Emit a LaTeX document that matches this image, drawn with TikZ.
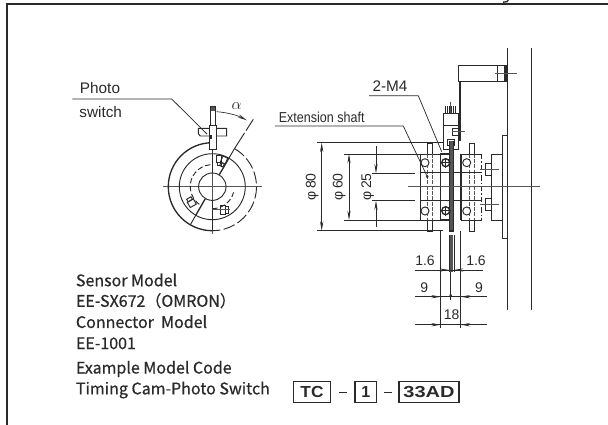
\documentclass[tikz,border=0pt]{standalone}
\usepackage{fontspec}
\setmainfont{Liberation Sans}
\newfontfamily\jpf[FakeBold=0.6]{Noto Sans CJK JP}
\usetikzlibrary{arrows.meta}
\definecolor{ink}{HTML}{2A2A2A}
\definecolor{mid}{HTML}{555555}
\tikzset{
 frameline/.style={draw=ink,line width=1.5pt},
 thin line/.style={draw=ink,line width=0.55pt},
 obj/.style={draw=ink,line width=0.7pt},
 heavy/.style={draw=ink,line width=1pt},
 cl/.style={draw=mid,line width=0.7pt},
 dim/.style={draw=ink,line width=0.5pt},
 dimboth/.style={dim,{Stealth[length=7pt,width=2.4pt]}-{Stealth[length=7pt,width=2.4pt]}},
 dimto/.style={dim,-{Stealth[length=7pt,width=2.4pt]}},
 lbl/.style={inner sep=0pt,text=ink},
 photolbl/.style={lbl,font=\fontsize{11.5}{13}\selectfont},
 dimlbl/.style={lbl,font=\fontsize{10.5}{12}\selectfont},
 note/.style={lbl,anchor=west,font=\jpf\fontsize{12}{14}\selectfont},
 codebox/.style={draw=ink,line width=0.8pt,minimum height=15.5pt,inner sep=0pt,font=\bfseries\fontsize{12}{14}\selectfont,text=ink},
 bgdash/.style={draw=mid,line width=0.6pt,dash pattern=on 3pt off 1pt},
}
\begin{document}
\begin{tikzpicture}[x=0.75pt,y=-0.75pt]
\useasboundingbox (0,0) rectangle (608,425);
% frame
\coordinate (fbl) at (6.5,425); \coordinate (ftl) at (6.5,4); \coordinate (ftr) at (608,4);
\draw[frameline] (fbl) -- (ftl) -- (ftr);
\draw[line width=1pt,draw=ink] (503,2.2) .. controls (506,2.4) and (508,1.5) .. (508.5,0);

%%% left view
\coordinate (cc) at (212.3,186.7);
\begin{scope}[shift={(cc)}]
 \draw[cl] (-49,0) -- (49.4,0);
 \draw[cl] (0,-80.7) -- (0,47.3);
 \draw[obj] (0,0) circle (13.7);
 \draw[obj] (0,0) circle (33);
 \draw[heavy] (0,-44) arc[start angle=-90,end angle=-270,radius=44];
 \draw[obj,dash pattern=on 9pt off 2.5pt] (22.2,-38.1) arc[start angle=-60,end angle=90,radius=44];
 \draw[obj,dash pattern=on 4pt off 2pt] (-2,-22) arc[start angle=-95,end angle=-240,radius=22];
 \draw[obj,dash pattern=on 4pt off 2pt] (0,22) arc[start angle=90,end angle=15,radius=22];
 % radial cuts
 \draw[heavy] (7,-12) -- (16,-27.5);
 \draw[obj] (16,-27.5) -- (22.2,-38.1);
 \draw[obj,dash pattern=on 14pt off 2pt] (22.2,-38.1) -- (41,-67.4);
 \draw[heavy] (-7,12) -- (-16.5,28.5);
 \draw[obj] (-16.5,28.5) -- (-22,38.1);
 \draw[heavy] (0,-44) -- (0,-14);
 \draw[heavy] (0,14) -- (0,44);
 % alpha dimension
 \draw[dimto] (4.4,-75) arc[start angle=-86,end angle=-62,radius=75.5];
 % bolts
 \draw[obj] (4.4,-31) rectangle (9.6,-24.5);
 \draw[obj] (5.2,-24.5) rectangle (8.8,-21);
 \draw[obj,rotate around={-24:(11,-25)}] (8.4,-30) rectangle (13.6,-23.5);
 \draw[obj,rotate around={-24:(11,-25)}] (9.2,-23.5) rectangle (12.8,-20);
 \draw[obj] (8,18.3) rectangle (13.5,28);
 \draw[obj] (13.5,20) rectangle (16,26.3);
 \draw[cl] (0,23.2) -- (18,23.2);
 \draw[obj,rotate around={30:(-20.5,16.5)}] (-24,13.5) rectangle (-17,19.5);
 \draw[obj,rotate around={30:(-20.5,16.5)}] (-23,10.5) rectangle (-18,13.5);
 % sensor
 \draw[obj,fill=white] (-14,-58.4) -- (14.4,-58.4) -- (14.4,-50.7) -- (-12,-50.7) -- (-14,-53) -- cycle;
 \draw[obj,fill=white] (-3,-61.7) rectangle (4.4,-37.4);
 \draw[obj,fill=white] (-1.6,-80) rectangle (2.7,-61.7);
 \fill[mid] (-1.6,-80) rectangle (2.7,-76);
 \fill[ink] (-3,-52) rectangle (-0.8,-48);
\end{scope}
\node[photolbl] (photo) at (100,88.3) {Photo};
\node[photolbl] (switch) at (100.7,111.7) {switch};
\coordinate (ph1) at (72.3,99); \coordinate (ph2) at (171.7,99); \coordinate (ph3) at (207,134);
\draw[thin line] (ph1) -- (ph2) -- (ph3);
\node[lbl,font=\itshape\fontsize{12}{14}\selectfont] (alpha) at (236.7,106.2) {$\alpha$};

%%% right view
% far right vertical lines
\draw[line width=1.1pt,draw=ink] (507.4,48) -- (507.4,310);
\draw[line width=1.1pt,draw=ink] (531.7,48) -- (531.7,310);
% top bracket
\draw[obj] (458.3,65.7) rectangle (507.4,81.7);
\draw[obj] (497.3,65.7) -- (497.3,81.7);
\draw[line width=2pt,draw=ink] (505.8,65.7) -- (505.8,81.7);
\draw[heavy] (458.3,65.7) -- (507.4,65.7);
\draw[cl] (495,73.3) -- (516.7,73.3);
\draw[line width=1.6pt,draw=ink] (460,81.7) -- (460,141);
% sensor
\draw[obj,fill=white] (443.3,113) rectangle (458.6,149);
\draw[obj] (443.3,125.5) -- (458.6,125.5);
\foreach \xx in {445.5,447.5,449.5,451.5,453.5,455.5}{\draw[line width=0.7pt,draw=ink] (\xx,106) -- (\xx,113);}
\draw[cl] (450.7,101.5) -- (450.7,113);
\draw[obj,fill=white] (452.5,128) rectangle (458.5,135.5);
\draw[obj] (458.5,129) rectangle (460.5,134.5);
\draw[cl] (452,131.7) -- (465,131.7);
% flange & plate
\draw[obj] (502.4,135) -- (507.4,135);
\draw[heavy] (502.4,135) -- (502.4,238.5) -- (507.4,238.5);
\draw[obj] (491.7,154) rectangle (502.4,220);
% blocks
\draw[obj] (420,154) rectangle (440,220);
\draw[bgdash] (427.7,143) -- (427.7,231);
\draw[bgdash] (432.3,143) -- (432.3,231);
\draw[bgdash] (469.3,143) -- (469.3,231);
\draw[bgdash] (474,143) -- (474,231);
\draw[obj] (427.7,154) -- (427.7,143) -- (432.3,143) -- (432.3,154);
\draw[obj] (469.3,154) -- (469.3,143) -- (474,143) -- (474,154);
\draw[obj] (427.7,220) -- (427.7,231) -- (432.3,231) -- (432.3,220);
\draw[obj] (469.3,220) -- (469.3,231) -- (474,231) -- (474,220);
\draw[obj] (460.7,154) -- (481.7,154);
\draw[obj] (460.7,220) -- (481.7,220);
\draw[obj,dash pattern=on 4pt off 1.5pt on 1pt off 1.5pt] (481.7,154) -- (481.7,220);
\draw[heavy] (420,172.7) -- (481.7,172.7);
\draw[heavy] (420,200.7) -- (481.7,200.7);
\draw[obj] (420,172.7) -- (420,200.7);
\draw[line width=1.2pt,draw=ink] (440.4,154) -- (440.4,220);
\draw[line width=1.2pt,draw=ink] (460.7,154) -- (460.7,220);
\draw[heavy] (440.4,154) -- (449.5,154);
\draw[heavy] (440.4,220) -- (449.5,220);
% plate
\draw[obj,fill=white] (447.5,139) rectangle (454,145);
\fill[mid] (449.6,141) rectangle (453.6,231);
\draw[line width=0.8pt,draw=ink] (449.3,141) -- (449.3,231) -- (453.8,231) -- (453.8,141);
% bearings
\foreach \bx/\by in {425/162.7,466.7/162.7,425/211,466.7/211}{\draw[obj,fill=white] (\bx,\by) circle (4);}
\foreach \bx/\by in {445.7/162.7,445.7/210.7}{
 \draw[heavy,fill=white] (\bx,\by) circle (4);
 \draw[obj] (\bx-5,\by) -- (\bx+5,\by); \draw[obj] (\bx,\by-5) -- (\bx,\by+5);}
% side bolts
\draw[obj,fill=white] (485,163.3) rectangle (491.7,175);
\draw[obj,fill=white] (485,198.3) rectangle (491.7,210);
\draw[cl] (480,169.3) -- (499.3,169.3);
\draw[cl] (480,204) -- (499.3,204);
% main centre line
\draw[cl] (408,186.7) -- (540,186.7);

% extension lines
\draw[dim] (317,142.7) -- (443.3,142.7);
\draw[dim] (317,230.7) -- (443,230.7);
\draw[dim] (344,154) -- (420,154);
\draw[dim] (344,220) -- (420,220);
\draw[dim] (372,173.3) -- (415,173.3);
\draw[dim] (372,200.7) -- (415,200.7);
% dims phi
\coordinate (d80a) at (321.7,142.7); \coordinate (d80b) at (321.7,230.7);
\coordinate (d60a) at (349,154); \coordinate (d60b) at (349,220);
\coordinate (d25a) at (376,146); \coordinate (d25b) at (376,173.3);
\coordinate (d25c) at (376,227); \coordinate (d25d) at (376,200.7);
\draw[dimboth] (d80a) -- (d80b);
\draw[dimboth] (d60a) -- (d60b);
\draw[dimto] (d25a) -- (d25b);
\draw[dimto] (d25c) -- (d25d);
\node[dimlbl,rotate=90] (p80) at (312.3,186.7) {φ\,80};
\node[dimlbl,rotate=90] (p60) at (339.3,186.7) {φ\,60};
\node[dimlbl,rotate=90] (p25) at (367.7,186.7) {φ\,25};

% leaders
\node[photolbl] (m4) at (390,86) {2-M4};
\coordinate (m1) at (369,95.7); \coordinate (m2) at (418.3,95.7); \coordinate (m3) at (441.7,151.7);
\draw[thin line] (m1) -- (m2) -- (m3);
\node[lbl,font=\fontsize{10.8}{13}\selectfont] (ext) at (321.7,117.3) {\scalebox{0.87}[1]{Extension shaft}};
\coordinate (e1) at (275,126); \coordinate (e2) at (403.3,126); \coordinate (e3) at (427.3,176.7);
\draw[thin line] (e1) -- (e2) -- (e3);
\fill[ink] (e3) circle (1.4);

% lower extension
\draw[dim] (440.7,231) -- (440.7,328);
\draw[dim] (460.7,231) -- (460.7,328);
\fill[mid] (450.2,235) rectangle (453.4,272);
\draw[dim] (449,235) -- (449,272);
\draw[dim] (454,235) -- (454,272);
\draw[dim] (450.7,272) -- (450.7,300);
% lower dims
\coordinate (l1) at (415,270); \coordinate (l3) at (449,270); \coordinate (l4) at (454,270); \coordinate (l6) at (483,270);
\draw[dim] (l1) -- (l6);
\draw[dimto] (l1) -- (l3);
\draw[dimto] (l6) -- (l4);
\coordinate (n1) at (415,296.7); \coordinate (n2) at (440.7,296.7); \coordinate (n4) at (460.7,296.7); \coordinate (n5) at (486.7,296.7);
\draw[dim] (n1) -- (n5);
\draw[dimto] (n1) -- (n2);
\draw[dimto] (n5) -- (n4);
\fill[ink] (450.7,298.5) -- (449.2,294.5) -- (452.2,294.5) -- cycle;
\coordinate (t1) at (415,324.7); \coordinate (t2) at (440.7,324.7); \coordinate (t3) at (460.7,324.7); \coordinate (t4) at (486.7,324.7);
\draw[dim] (t1) -- (t4);
\draw[dimto] (t1) -- (t2);
\draw[dimto] (t4) -- (t3);
\node[dimlbl] (a16) at (425,260.7) {1.6};
\node[dimlbl] (b16) at (476,260.7) {1.6};
\node[dimlbl] (a9) at (424.3,287.7) {9};
\node[dimlbl] (b9) at (479,287.7) {9};
\node[dimlbl] (n18) at (451.7,315) {18};

%%% notes
\node[note] (s1) at (75.7,280) {Sensor Model};
\node[note] (s2) at (75.7,300.7) {EE-SX672（OMRON）};
\node[note] (s3) at (75.7,321.7) {Connector\ \ Model};
\node[note] (s4) at (75.7,343.3) {EE-1001};
\node[note] (s5) at (75.7,369) {Example Model Code};
\node[note] (s6) at (75.7,390) {Timing Cam-Photo Switch};

%%% code
\node[codebox,minimum width=28pt] (tc) at (312,392) {\scalebox{1.08}[1]{TC}};
\node[codebox,minimum width=16.2pt] (one) at (365.8,392) {1};
\node[codebox,minimum width=45pt] (ad) at (429,392) {\scalebox{1.25}[1]{33AD}};
\coordinate (da1) at (338.8,392); \coordinate (da2) at (346.5,392);
\coordinate (db1) at (384,392); \coordinate (db2) at (391.5,392);
\draw[dim,line width=0.7pt] (da1) -- (da2);
\draw[dim,line width=0.7pt] (db1) -- (db2);
\end{tikzpicture}
\end{document}
